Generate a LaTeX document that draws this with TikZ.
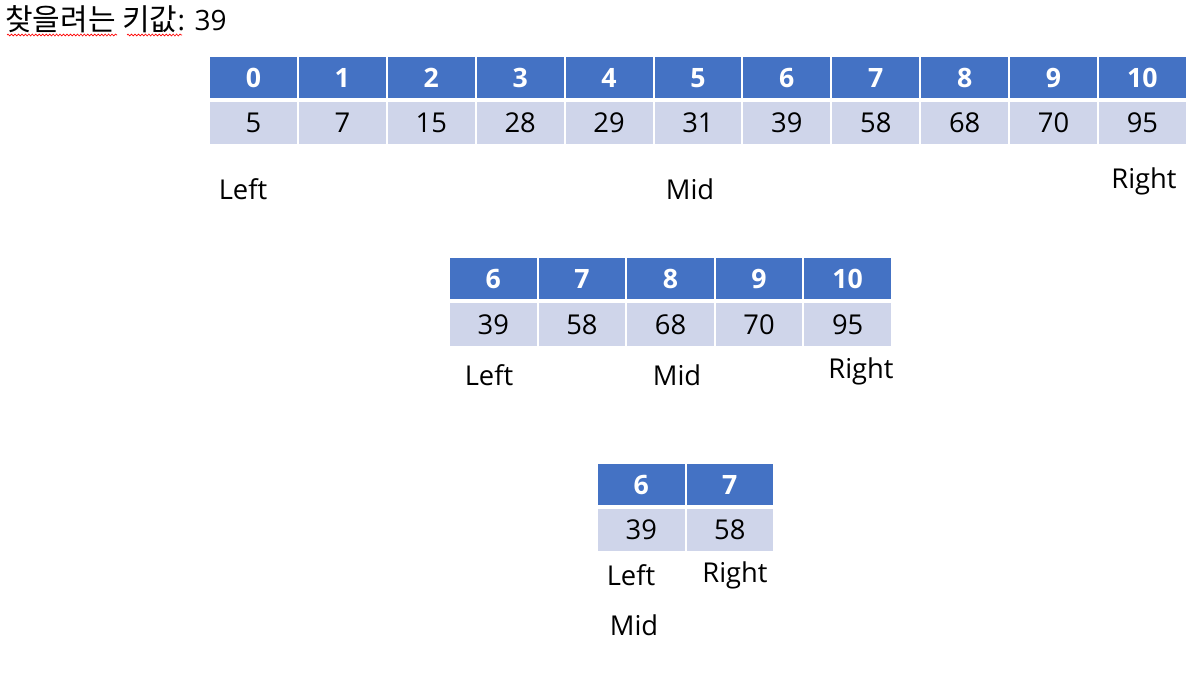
\documentclass[tikz,border=0pt]{standalone}
\usepackage{fontspec}
\setmainfont{Open Sans}
\newfontfamily\cjk{Noto Sans CJK KR}
\usetikzlibrary{decorations.pathmorphing}
\definecolor{hdrblue}{HTML}{4472C4}
\definecolor{valblue}{HTML}{CFD5EA}
\tikzset{
  x=0.75pt,y=-0.75pt,
  cellbase/.style={draw=white,line width=1.5pt,inner sep=0pt,anchor=center},
  hdr/.style={cellbase,fill=hdrblue,text=white,font=\fontsize{20}{24}\selectfont\bfseries},
  val/.style={cellbase,fill=valblue,text=black,font=\fontsize{20.5}{24}\selectfont},
  lbl/.style={inner sep=0pt,font=\fontsize{20.5}{24}\selectfont},
  spell/.style={draw=red,line width=0.5pt,decorate,decoration={snake,amplitude=0.7pt,segment length=2.6pt}}
}
\begin{document}
\begin{tikzpicture}
\useasboundingbox (0,0) rectangle (1200,674);
% title
\node[anchor=base west,inner sep=0pt,font=\fontsize{21}{24}\selectfont] (title) at (5,31)
  {{\cjk\fontsize{22.5}{26}\selectfont 찾을려는\hspace{5pt}키값}: 39};
\coordinate (s1a) at (7,35); \coordinate (s1b) at (117,35);
\coordinate (s2a) at (127,35); \coordinate (s2b) at (182,35);
\draw[spell] (s1a) -- (s1b);
\draw[spell] (s2a) -- (s2b);
% table 1
\foreach \v [count=\i from 0] in {5,7,15,28,29,31,39,58,68,70,95}{
  \node[hdr,minimum width=88.9*0.75pt,minimum height=43*0.75pt] (t1h\i) at ({209+88.9*(\i+0.5)},78) {\i};
  \node[val,minimum width=88.9*0.75pt,minimum height=44*0.75pt] (t1v\i) at ({209+88.9*(\i+0.5)},123) {\v};
}
\node[lbl] (t1left) at (243,189) {Left};
\node[lbl] (t1mid) at (690,189) {Mid};
\node[lbl] (t1right) at (1144,181) {Right};
% table 2
\foreach \v [count=\k from 0] in {39,58,68,70,95}{
  \pgfmathtruncatemacro{\idx}{\k+6}
  \node[hdr,minimum width=88.6*0.75pt,minimum height=43*0.75pt] (t2h\k) at ({449+88.6*(\k+0.5)},278.5) {\idx};
  \node[val,minimum width=88.6*0.75pt,minimum height=45*0.75pt] (t2v\k) at ({449+88.6*(\k+0.5)},324.5) {\v};
}
\node[lbl] (t2left) at (489,375) {Left};
\node[lbl] (t2mid) at (677,375) {Mid};
\node[lbl] (t2right) at (861,371) {Right};
% table 3
\foreach \v [count=\k from 0] in {39,58}{
  \pgfmathtruncatemacro{\idx}{\k+6}
  \node[hdr,minimum width=88.5*0.75pt,minimum height=43*0.75pt] (t3h\k) at ({597+88.5*(\k+0.5)},484.5) {\idx};
  \node[val,minimum width=88.5*0.75pt,minimum height=44*0.75pt] (t3v\k) at ({597+88.5*(\k+0.5)},530) {\v};
}
\node[lbl] (t3left) at (631,575) {Left};
\node[lbl] (t3right) at (735,575) {Right};
\node[lbl] (t3mid) at (634,625) {Mid};
\end{tikzpicture}
\end{document}
